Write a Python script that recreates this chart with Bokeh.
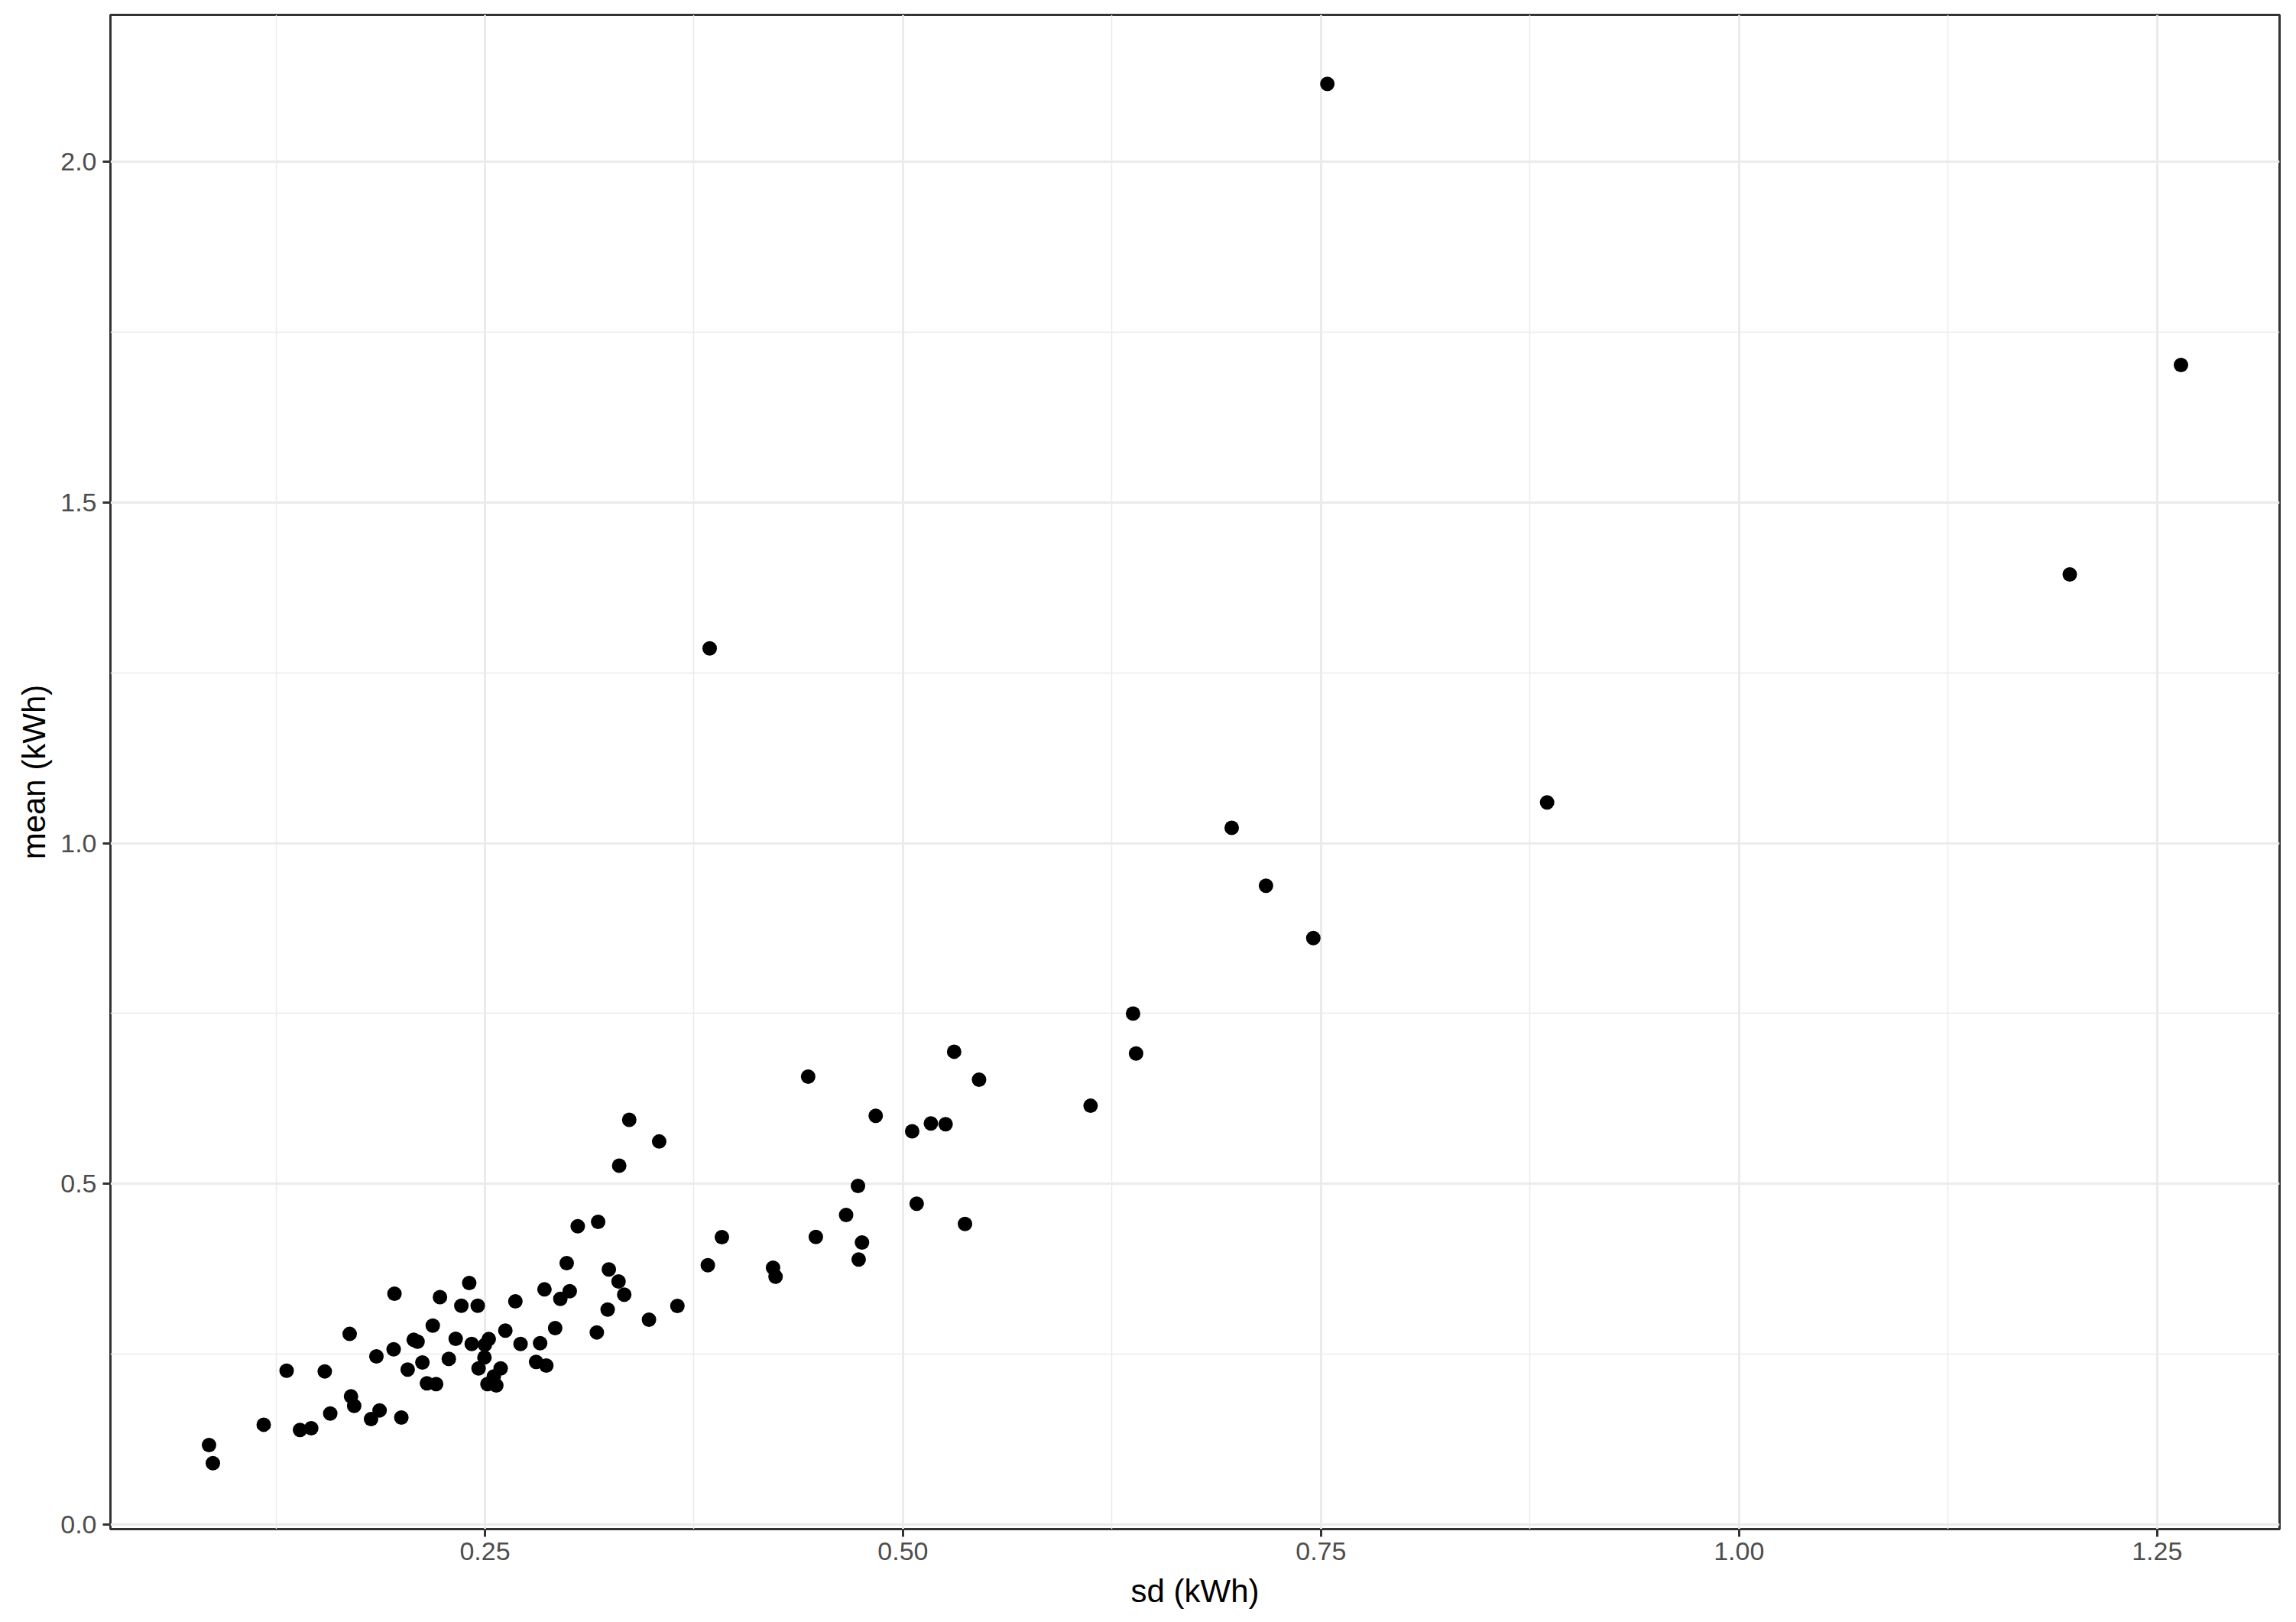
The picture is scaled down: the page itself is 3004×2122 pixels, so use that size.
from bokeh.plotting import figure
from bokeh.models import Range1d, FixedTicker, PrintfTickFormatter
from bokeh.embed import file_html
from bokeh.resources import INLINE

# ---- data ----
sd_kwh = [
    0.085, 0.0873, 0.1177, 0.1314, 0.1394, 0.1461, 0.1542, 0.1575, 0.1691, 0.1699,
    0.1718, 0.1819, 0.1870, 0.1851, 0.1959, 0.1954, 0.2000, 0.2038, 0.2074, 0.2097,
    0.2126, 0.2153, 0.2208, 0.2188, 0.2231, 0.2284, 0.2325, 0.2359, 0.2406, 0.2421,
    0.2457, 0.2500, 0.2523, 0.2497, 0.2462, 0.2515, 0.2553, 0.2568, 0.2594, 0.2622,
    0.2682, 0.2713, 0.2830, 0.2806, 0.2867, 0.2856, 0.2920, 0.2951, 0.3007, 0.2989,
    0.3055, 0.3177, 0.3241, 0.3299, 0.3333, 0.3234, 0.3169, 0.3481, 0.3651, 0.3833,
    0.3917, 0.4223, 0.4238, 0.4479, 0.3363, 0.3542, 0.3303, 0.4433, 0.4837, 0.5055,
    0.5167, 0.5255, 0.5306, 0.5455, 0.4731, 0.4660, 0.5082, 0.5371, 0.4755, 0.4735,
    0.6376, 0.6394, 0.6122, 0.6966, 0.7171, 0.7454, 0.8852, 0.7538, 1.2643, 1.1978,
    0.3844,
]
mean_kwh = [
    0.117, 0.0904, 0.1468, 0.226, 0.139, 0.1416, 0.225, 0.1633, 0.280, 0.1883,
    0.1745, 0.155, 0.1678, 0.247, 0.339, 0.2575, 0.1573, 0.2276, 0.2713, 0.2687,
    0.238, 0.2074, 0.2063, 0.2922, 0.334, 0.2433, 0.2728, 0.3214, 0.3547, 0.2653,
    0.3214, 0.264, 0.2724, 0.2455, 0.2294, 0.2063, 0.2175, 0.2044, 0.2294, 0.2848,
    0.3278, 0.2653, 0.2664, 0.2388, 0.2336, 0.3453, 0.2885, 0.3315, 0.3427, 0.3838,
    0.438, 0.4444, 0.3745, 0.357, 0.3375, 0.3158, 0.2822, 0.3008, 0.321, 0.3808,
    0.422, 0.377, 0.364, 0.4223, 0.594, 0.5623, 0.5269, 0.6575, 0.600, 0.5772,
    0.5888, 0.5877, 0.694, 0.653, 0.497, 0.4545, 0.471, 0.4414, 0.4142, 0.3892,
    0.750, 0.6913, 0.6147, 1.0224, 0.9376, 0.8606, 1.0598, 2.1137, 1.7014, 1.3941,
    1.2857,
]

x_ticks = [0.25, 0.50, 0.75, 1.00, 1.25]
x_minor = [0.125, 0.375, 0.625, 0.875, 1.125]
y_ticks = [0.0, 0.5, 1.0, 1.5, 2.0]
y_minor = [0.25, 0.75, 1.25, 1.75]
x_title = "sd (kWh)"
y_title = "mean (kWh)"

# ggplot-like 5% expansion of the data range
def expand(vals, f=0.05):
    lo, hi = min(vals), max(vals)
    d = (hi - lo) * f
    return lo - d, hi + d

xr = expand(sd_kwh)
yr = (-0.0064, 2.215)  # visible y limits

p = figure(
    width=2996, height=2118,
    output_backend="svg", toolbar_location=None,
    x_range=Range1d(*xr), y_range=Range1d(*yr),
    min_border_left=144, min_border_right=14,
    min_border_top=19, min_border_bottom=118,
)
p.background_fill_color = "white"
p.border_fill_color = "white"
p.outline_line_color = "#333333"
p.outline_line_width = 3

p.xaxis.ticker = FixedTicker(ticks=x_ticks, minor_ticks=x_minor)
p.yaxis.ticker = FixedTicker(ticks=y_ticks, minor_ticks=y_minor)
p.xaxis.formatter = PrintfTickFormatter(format="%.2f")
p.yaxis.formatter = PrintfTickFormatter(format="%.1f")

for ax in (p.xaxis, p.yaxis):
    ax.axis_line_color = None
    ax.major_tick_line_color = "#333333"
    ax.major_tick_line_width = 3
    ax.major_tick_out = 10
    ax.major_tick_in = 0
    ax.minor_tick_line_color = None
    ax.major_label_text_font = "Liberation Sans"
    ax.major_label_text_font_size = "34px"
    ax.major_label_text_color = "#4D4D4D"
    ax.axis_label_text_font = "Liberation Sans"
    ax.axis_label_text_font_size = "42px"
    ax.axis_label_text_font_style = "normal"
    ax.axis_label_text_color = "black"

p.xaxis.axis_label = x_title
p.yaxis.axis_label = y_title
p.xaxis.major_label_standoff = 7
p.yaxis.major_label_standoff = 8
p.xaxis.axis_label_standoff = 14
p.yaxis.axis_label_standoff = 8

p.xgrid.grid_line_color = "#EBEBEB"
p.ygrid.grid_line_color = "#EBEBEB"
p.xgrid.grid_line_width = 3
p.ygrid.grid_line_width = 3
p.xgrid.minor_grid_line_color = "#EBEBEB"
p.ygrid.minor_grid_line_color = "#EBEBEB"
p.xgrid.minor_grid_line_width = 1.5
p.ygrid.minor_grid_line_width = 1.5

p.scatter(sd_kwh, mean_kwh, size=19, fill_color="black", line_color=None)

open("out.html", "w").write(file_html(p, INLINE))
